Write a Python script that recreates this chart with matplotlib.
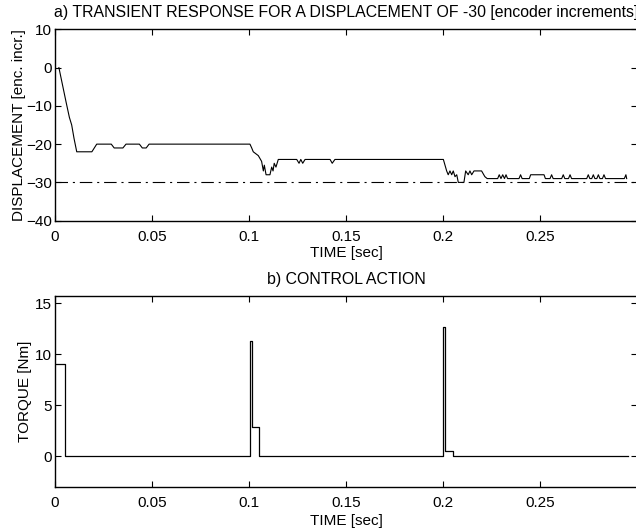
import numpy as np
import matplotlib
matplotlib.use('Agg')
import matplotlib.pyplot as plt

plt.rcParams['font.family'] = ['Liberation Sans', 'DejaVu Sans']
plt.rcParams['font.size'] = 11
plt.rcParams['lines.scale_dashes'] = False

# a) displacement response [encoder increments] vs time [sec]
t_disp = [0.002, 0.0057, 0.0074, 0.0086, 0.0098, 0.0112, 0.019, 0.0215,
          0.029, 0.0305, 0.035, 0.0366, 0.0435, 0.045, 0.047, 0.0485,
          0.1005, 0.1014, 0.1022, 0.1048, 0.1065, 0.1074, 0.1079, 0.1088,
          0.1108, 0.1117, 0.1124, 0.1130, 0.1139, 0.1151, 0.1246, 0.1258,
          0.1267, 0.1277, 0.1289, 0.1418, 0.1429, 0.1443, 0.2002, 0.2019,
          0.2027, 0.2036, 0.2045, 0.2053, 0.2062, 0.2071, 0.2079, 0.2108,
          0.2117, 0.2130, 0.2139, 0.2148, 0.2160, 0.2199, 0.2216, 0.2228,
          0.2282, 0.2290, 0.2299, 0.2308, 0.2317, 0.2325, 0.2333,
          0.2392, 0.2400, 0.2408, 0.2445, 0.2452, 0.2521, 0.2528,
          0.2552, 0.2560, 0.2568, 0.2612, 0.2620, 0.2628, 0.2647, 0.2655,
          0.2663, 0.2741, 0.2749, 0.2757, 0.2767, 0.2775, 0.2783, 0.2793,
          0.2801, 0.2809, 0.2822, 0.2830, 0.2838, 0.2935, 0.2943, 0.2947]
y_disp = [0, -9, -13, -15, -18.5, -22, -22, -20,
          -20, -21, -21, -20, -20, -21, -21, -20,
          -20, -21, -22, -23, -24.5, -27, -25.5, -28,
          -28, -26, -27, -25, -26, -24, -24, -25,
          -24, -25, -24, -24, -25, -24, -24, -27,
          -28, -27, -28, -27, -28.5, -28, -30, -30,
          -27, -28, -27, -28, -27, -27, -28.5, -29,
          -29, -28, -29, -28, -29, -28, -29,
          -29, -28, -29, -29, -28, -28, -29,
          -29, -28, -29, -29, -28, -29, -29, -28,
          -29, -29, -28, -29, -29, -28, -29, -29,
          -28, -29, -29, -28, -29, -29, -28, -29]
setpoint = -30

# b) control action, torque [Nm] (zero-order hold)
t_torque = [0, 0.0052, 0.1005, 0.1013, 0.1052, 0.2002, 0.2010, 0.2050, 0.2955]
torque = [9, 0, 11.3, 2.85, 0, 12.65, 0.55, 0, 0]

xticks = [0, 0.05, 0.1, 0.15, 0.2, 0.25]
xticklabels = ['0', '0.05', '0.1', '0.15', '0.2', '0.25']

fig = plt.figure(figsize=(6.36, 5.31), dpi=100)
ax_a = fig.add_axes([0.0865, 0.5844, 0.915, 0.3604])
ax_b = fig.add_axes([0.0865, 0.0823, 0.915, 0.3603])

ax_a.plot(t_disp, y_disp, color='black', lw=0.8)
sp, = ax_a.plot([0, 0.3], [setpoint, setpoint], color='black', lw=0.8)
sp.set_dashes([9, 3.5, 1.5, 3.5])
ax_a.set_xlim(0, 0.3)
ax_a.set_ylim(-40, 10)
ax_a.set_yticks([-40, -30, -20, -10, 0, 10])
ax_a.set_title('a) TRANSIENT RESPONSE FOR A DISPLACEMENT OF -30 [encoder increments]',
               fontsize=11.4, pad=9)
ax_a.set_ylabel('DISPLACEMENT [enc. incr.]', labelpad=0)
ax_a.set_xlabel('TIME [sec]', labelpad=1.5)

ax_b.plot(t_torque, torque, color='black', lw=0.9, drawstyle='steps-post')
ax_b.set_xlim(0, 0.3)
ax_b.set_ylim(-3.05, 15.7)
ax_b.set_yticks([0, 5, 10, 15])
ax_b.set_title('b) CONTROL ACTION', fontsize=11.4, pad=8.5)
ax_b.set_ylabel('TORQUE [Nm]', labelpad=2.5)
ax_b.set_xlabel('TIME [sec]', labelpad=3)

for ax in (ax_a, ax_b):
    ax.set_xticks(xticks)
    ax.set_xticklabels(xticklabels)
    ax.tick_params(direction='in', length=4, width=0.8, top=True, right=True)
    ax.tick_params(axis='x', pad=6.5)
    ax.tick_params(axis='y', pad=2)
    for s in ax.spines.values():
        s.set_linewidth(1.0)

fig.savefig('out.png', dpi=100)
